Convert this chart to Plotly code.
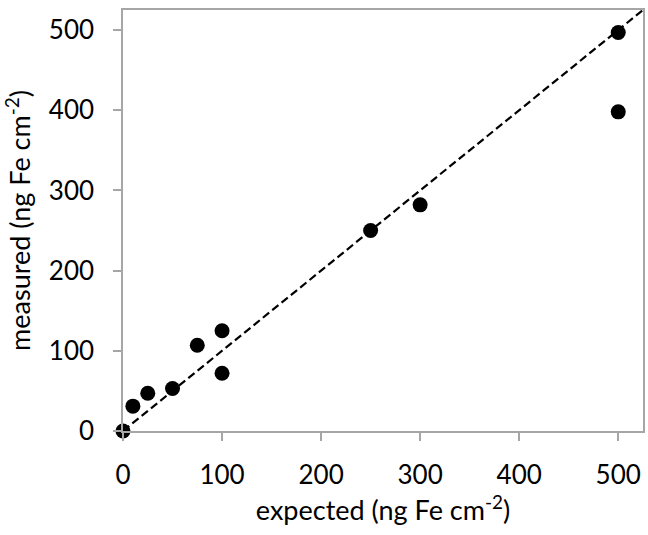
import plotly.graph_objects as go

# Expected vs measured iron loading (ng Fe cm^-2)
expected = [0, 10, 25, 50, 75, 100, 100, 250, 300, 500, 500]
measured = [0, 31, 47, 53, 107, 125, 72, 250, 282, 497, 398]
ref_line = [0, 525]
tick_vals = [0, 100, 200, 300, 400, 500]

font_family = "Lato, 'Open Sans', sans-serif"
axis_grey = "#a6a6a6"

fig = go.Figure()

# 1:1 reference line
fig.add_trace(go.Scatter(
    x=ref_line, y=ref_line, mode="lines",
    line=dict(color="black", width=2.2, dash="8px,4px"),
    hoverinfo="skip", showlegend=False, cliponaxis=True,
))

fig.add_trace(go.Scatter(
    x=expected, y=measured, mode="markers",
    marker=dict(color="black", size=15),
    showlegend=False, cliponaxis=False,
))

axis_common = dict(
    range=[0, 525], tickvals=tick_vals, showgrid=False, zeroline=False,
    showline=True, linecolor=axis_grey, linewidth=1.5, mirror=True,
    ticks="outside", ticklen=8, tickcolor=axis_grey, tickwidth=1.5,
    tickfont=dict(family=font_family, size=26, color="black"),
)

fig.update_layout(
    width=648, height=535,
    margin=dict(l=123, r=3, t=10, b=104),
    plot_bgcolor="white", paper_bgcolor="white",
    xaxis=dict(
        **axis_common,
        ticklabelstandoff=12,
        title=dict(text="expected (ng Fe cm<sup>-2</sup>)",
                   font=dict(family=font_family, size=27, color="black"),
                   standoff=8),
    ),
    yaxis=dict(
        **axis_common,
        ticklabelstandoff=14,
        title=dict(text="measured (ng Fe cm<sup>-2</sup>)",
                   font=dict(family=font_family, size=27, color="black"),
                   standoff=12),
    ),
)

fig.write_html("out.html")
